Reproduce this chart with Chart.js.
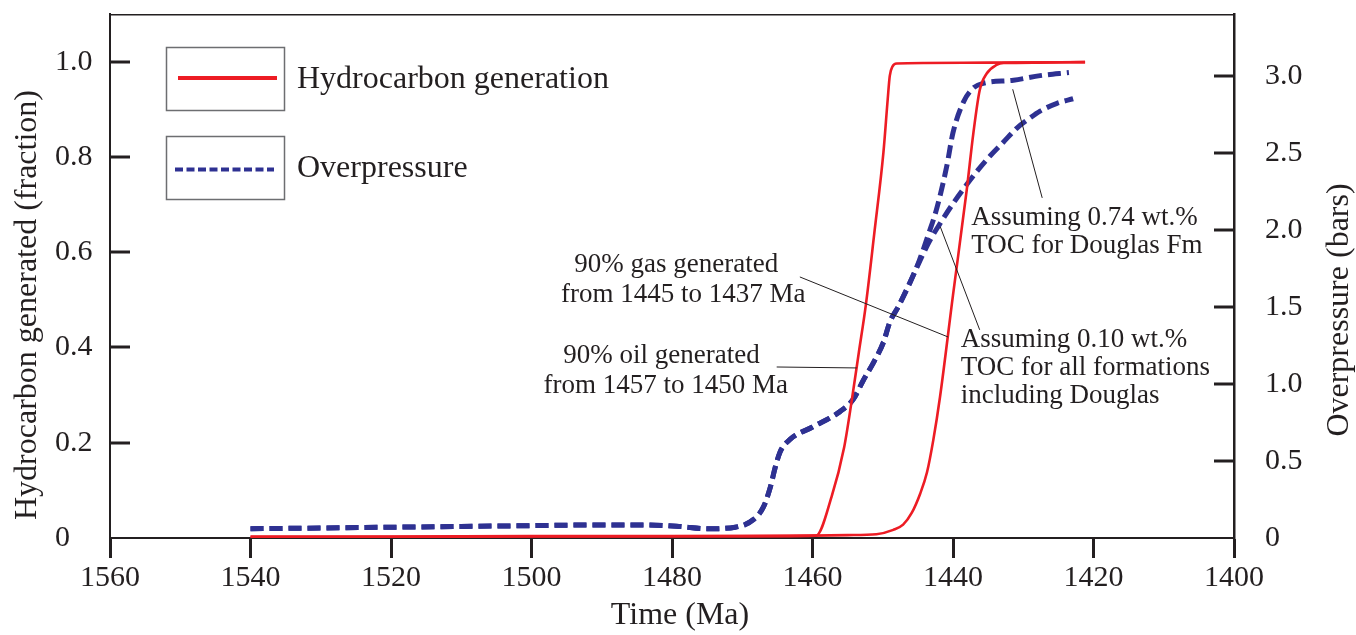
<!DOCTYPE html>
<html>
<head>
<meta charset="utf-8">
<title>Hydrocarbon generation and overpressure</title>
<script src="https://cdn.jsdelivr.net/npm/chart.js@4"></script>
<style>
  html, body { margin: 0; padding: 0; background: #ffffff; }
  canvas { display: block; }
</style>
</head>
<body>
<canvas id="chart" width="1356" height="635"></canvas>
<script>
// ---- axis ticks ----
const timeTicks = [1560, 1540, 1520, 1500, 1480, 1460, 1440, 1420, 1400];
const fractionTicks = [0, 0.2, 0.4, 0.6, 0.8, 1.0];
const pressureTicks = [0, 0.5, 1.0, 1.5, 2.0, 2.5, 3.0];

// ---- hydrocarbon generation (fraction), oil window ----
const oilTime     = [1540, 1520, 1500, 1480, 1465, 1459.5, 1457.3, 1455.5, 1454.4, 1453.4, 1452.4, 1451.2, 1449.9, 1449.3, 1449.0, 1448.6, 1448.0, 1444, 1435, 1421.2];
const oilFraction = [0.003, 0.003, 0.004, 0.004, 0.004, 0.005, 0.086, 0.19, 0.29, 0.39, 0.49, 0.64, 0.81, 0.92, 0.97, 0.99, 0.996, 0.997, 0.998, 0.999];

// ---- hydrocarbon generation (fraction), gas window ----
const gasTime     = [1540, 1500, 1470, 1460, 1455, 1450.9, 1448.5, 1447.1, 1445.9, 1444.7, 1443.7, 1442.8, 1441.85, 1440, 1438.05, 1437.1, 1436.2, 1435.2, 1433.8, 1432.8, 1428, 1421.2];
const gasFraction = [0.002, 0.003, 0.004, 0.005, 0.006, 0.008, 0.017, 0.028, 0.052, 0.092, 0.138, 0.206, 0.296, 0.51, 0.73, 0.85, 0.94, 0.975, 0.993, 0.997, 0.998, 0.999];

// ---- overpressure (bars), 0.74 wt.% TOC for Douglas Fm ----
const highTocTime = [1540, 1530, 1520, 1510, 1500, 1490, 1484, 1479, 1475, 1471, 1468.4, 1467, 1466, 1465.3, 1464.6, 1463.2, 1460, 1456.1, 1454.2, 1452.8, 1451.3, 1449.9, 1449, 1447.8, 1446.1, 1444.8, 1443.5, 1442.3, 1440.9, 1440.0, 1438.5, 1437.1, 1435.7, 1431.4, 1427.6, 1423.5];
const highTocBars = [0.06, 0.065, 0.07, 0.075, 0.08, 0.085, 0.085, 0.075, 0.06, 0.07, 0.12, 0.2, 0.33, 0.46, 0.56, 0.64, 0.72, 0.82, 0.9, 1.02, 1.14, 1.27, 1.4, 1.5, 1.66, 1.8, 1.97, 2.14, 2.41, 2.63, 2.83, 2.92, 2.95, 2.97, 3.0, 3.02];

// ---- overpressure (bars), 0.10 wt.% TOC for all formations ----
const lowTocTime = [1540, 1530, 1520, 1510, 1500, 1490, 1484, 1479, 1475, 1471, 1468.4, 1467, 1466, 1465.3, 1464.6, 1463.2, 1460, 1456.1, 1454.2, 1452.8, 1451.3, 1449.9, 1449, 1447.8, 1446.1, 1444.8, 1443.3, 1441.85, 1440, 1438.1, 1436.4, 1434.7, 1432.8, 1430.9, 1429.2, 1427.6, 1425.2, 1422.9];
const lowTocBars = [0.06, 0.065, 0.07, 0.075, 0.08, 0.085, 0.085, 0.075, 0.06, 0.07, 0.12, 0.2, 0.33, 0.46, 0.56, 0.64, 0.72, 0.82, 0.9, 1.02, 1.14, 1.27, 1.4, 1.5, 1.66, 1.79, 1.93, 2.04, 2.17, 2.29, 2.39, 2.48, 2.57, 2.66, 2.72, 2.77, 2.82, 2.85];

// ---- annotation text, anchored in (time, fraction) ----
const noteTexts = [
  { text: '90% gas generated',      time: 1479.4, frac: 0.559, align: 'center' },
  { text: 'from 1445 to 1437 Ma',   time: 1478.4, frac: 0.496, align: 'center' },
  { text: '90% oil generated',      time: 1481.5, frac: 0.367, align: 'center' },
  { text: 'from 1457 to 1450 Ma',   time: 1480.9, frac: 0.304, align: 'center' },
  { text: 'Assuming 0.74 wt.%',     time: 1437.4, frac: 0.657, align: 'left' },
  { text: 'TOC for Douglas Fm',     time: 1437.4, frac: 0.598, align: 'left' },
  { text: 'Assuming 0.10 wt.%',     time: 1438.9, frac: 0.402, align: 'left' },
  { text: 'TOC for all formations', time: 1438.9, frac: 0.342, align: 'left' },
  { text: 'including Douglas',      time: 1438.9, frac: 0.283, align: 'left' }
];

// ---- leader lines from the notes to the curves, (time, fraction) ----
const leaderLines = [
  { from: [1461.8, 0.548], to: [1440.7, 0.422] },
  { from: [1465.1, 0.359], to: [1453.7, 0.357] },
  { from: [1431.5, 0.942], to: [1427.3, 0.714] },
  { from: [1441.8, 0.653], to: [1436.2, 0.437] }
];

const SERIF = "'Liberation Serif', 'Times New Roman', serif";
const INK = '#231f20';
const RED = '#ed1c24';
const BLUE = '#2e3192';

const pairs = (xs, ys) => xs.map((t, i) => ({ x: t, y: ys[i] }));

const lineBase = {
  showLine: true,
  pointRadius: 0,
  pointHoverRadius: 0,
  fill: false,
  cubicInterpolationMode: 'monotone'
};

// vertical axes: fixed width, no extra room reserved for end labels
const fixWidth = w => s => {
  s.width = w;
  s.paddingTop = 0;
  s.paddingBottom = 0;
};

// Frame, inward ticks, notes, legend and axis titles
const decorations = {
  id: 'decorations',
  afterDraw(chart) {
    const { ctx, chartArea: a, scales } = chart;
    const xs = scales.x, ys = scales.y, ps = scales.y2;
    const seg = (x1, y1, x2, y2) => { ctx.beginPath(); ctx.moveTo(x1, y1); ctx.lineTo(x2, y2); ctx.stroke(); };
    ctx.save();
    ctx.strokeStyle = INK;
    ctx.fillStyle = INK;

    // top edge of the frame
    ctx.lineWidth = 1.5;
    seg(a.left, a.top + 0.75, a.right, a.top + 0.75);

    // inward tick marks on both vertical axes
    ctx.lineWidth = 3;
    fractionTicks.forEach(v => {
      if (v === 0) return;
      const py = Math.round(ys.getPixelForValue(v));
      seg(a.left, py, a.left + 20, py);
    });
    pressureTicks.forEach(v => {
      if (v === 0) return;
      const py = Math.round(ps.getPixelForValue(v));
      seg(a.right - 20, py, a.right, py);
    });

    // leader lines
    ctx.lineWidth = 1;
    leaderLines.forEach(l => {
      seg(xs.getPixelForValue(l.from[0]), ys.getPixelForValue(l.from[1]),
          xs.getPixelForValue(l.to[0]), ys.getPixelForValue(l.to[1]));
    });

    // notes
    ctx.font = '27px ' + SERIF;
    ctx.textBaseline = 'alphabetic';
    noteTexts.forEach(n => {
      ctx.textAlign = n.align;
      ctx.fillText(n.text, xs.getPixelForValue(n.time), ys.getPixelForValue(n.frac));
    });

    // legend
    const legendRows = [
      { label: 'Hydrocarbon generation', ds: 0, top: 47, lineY: 78, dash: [], x1: 178, x2: 277, width: 4, textY: 88 },
      { label: 'Overpressure', ds: 2, top: 136, lineY: 169.5, dash: [8, 3.5], x1: 175, x2: 274, width: 4, textY: 177 }
    ];
    legendRows.forEach(r => {
      ctx.setLineDash([]);
      ctx.lineWidth = 1.5;
      ctx.strokeStyle = '#6d6e71';
      ctx.strokeRect(166.5, r.top + 0.5, 118, 63);
      ctx.strokeStyle = chart.data.datasets[r.ds].borderColor;
      ctx.lineWidth = r.width;
      ctx.setLineDash(r.dash);
      seg(r.x1, r.lineY, r.x2, r.lineY);
      ctx.setLineDash([]);
      ctx.font = '32px ' + SERIF;
      ctx.textAlign = 'left';
      ctx.fillStyle = INK;
      ctx.fillText(r.label, 297, r.textY);
    });

    // axis titles
    ctx.font = '32px ' + SERIF;
    ctx.textAlign = 'center';
    ctx.textBaseline = 'alphabetic';
    ctx.fillText('Time (Ma)', 680, 624);

    ctx.save();
    ctx.translate(36, 305);
    ctx.rotate(-Math.PI / 2);
    ctx.fillText('Hydrocarbon generated (fraction)', 0, 0);
    ctx.restore();

    ctx.save();
    ctx.translate(1348, 310);
    ctx.rotate(-Math.PI / 2);
    ctx.fillText('Overpressure (bars)', 0, 0);
    ctx.restore();

    ctx.restore();
  }
};

new Chart(document.getElementById('chart'), {
  type: 'scatter',
  data: {
    datasets: [
      Object.assign({}, lineBase, {
        label: 'Hydrocarbon generation (oil)',
        data: pairs(oilTime, oilFraction),
        yAxisID: 'y',
        borderColor: RED,
        borderWidth: 2.6,
        order: 1
      }),
      Object.assign({}, lineBase, {
        label: 'Hydrocarbon generation (gas)',
        data: pairs(gasTime, gasFraction),
        yAxisID: 'y',
        borderColor: RED,
        borderWidth: 2.6,
        order: 1
      }),
      Object.assign({}, lineBase, {
        label: 'Overpressure, 0.74 wt.% TOC',
        data: pairs(highTocTime, highTocBars),
        yAxisID: 'y2',
        borderColor: BLUE,
        borderWidth: 5,
        borderDash: [13, 6],
        order: 2
      }),
      Object.assign({}, lineBase, {
        label: 'Overpressure, 0.10 wt.% TOC',
        data: pairs(lowTocTime, lowTocBars),
        yAxisID: 'y2',
        borderColor: BLUE,
        borderWidth: 5,
        borderDash: [13, 6],
        order: 2
      })
    ]
  },
  options: {
    responsive: false,
    devicePixelRatio: 1,
    animation: false,
    events: [],
    layout: { padding: { left: 55, top: 14, right: 0, bottom: 0 } },
    plugins: {
      legend: { display: false },
      tooltip: { enabled: false },
      title: { display: false }
    },
    scales: {
      x: {
        type: 'linear',
        position: 'bottom',
        min: 1400,
        max: 1560,
        reverse: true,
        afterBuildTicks: s => { s.ticks = timeTicks.map(v => ({ value: v })); },
        afterFit: s => { s.height = 97; s.paddingLeft = 0; s.paddingRight = 0; },
        ticks: {
          color: INK,
          font: { family: SERIF, size: 30 },
          padding: 2,
          maxRotation: 0,
          autoSkip: false,
          callback: v => String(v)
        },
        grid: { drawOnChartArea: false, drawTicks: true, tickLength: 20, tickWidth: 3, tickColor: INK },
        border: { display: true, color: INK, width: 2 }
      },
      y: {
        type: 'linear',
        position: 'left',
        min: 0,
        max: 1.1,
        afterBuildTicks: s => { s.ticks = fractionTicks.map(v => ({ value: v })); },
        afterFit: fixWidth(55),
        ticks: {
          color: INK,
          font: { family: SERIF, size: 30 },
          crossAlign: 'far',
          padding: 0,
          callback: v => (v === 0 ? '0' : v.toFixed(1))
        },
        grid: { drawOnChartArea: false, drawTicks: false },
        border: { display: true, color: INK, width: 2 }
      },
      y2: {
        type: 'linear',
        position: 'right',
        min: 0,
        max: 3.4,
        afterBuildTicks: s => { s.ticks = pressureTicks.map(v => ({ value: v })); },
        afterFit: fixWidth(122),
        ticks: {
          color: INK,
          font: { family: SERIF, size: 30 },
          padding: 31,
          callback: v => (v === 0 ? '0' : v.toFixed(1))
        },
        grid: { drawOnChartArea: false, drawTicks: false },
        border: { display: true, color: INK, width: 2.5 }
      }
    }
  },
  plugins: [decorations]
});
</script>
</body>
</html>
